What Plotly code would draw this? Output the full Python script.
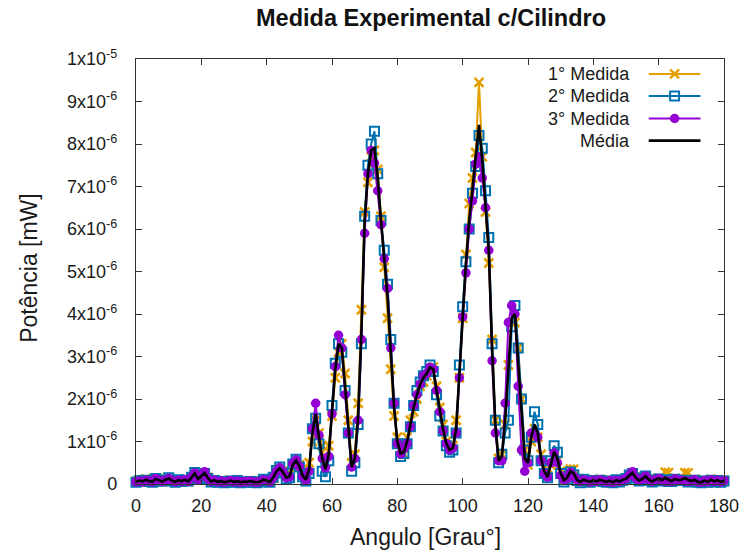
import plotly.graph_objects as go

# Angles (degrees)
angles = list(range(0, 181))

# Power values in units of 1e-6 mW
medida1 = [0.06,0.10,0.05,0.12,0.08,0.06,0.10,0.09,0.05,0.12,0.11,0.09,0.06,0.08,0.09,0.11,0.05,0.13,0.22,0.14,
0.16,0.24,0.16,0.07,0.10,0.06,0.08,0.05,0.07,0.09,0.06,0.06,0.05,0.07,0.06,0.08,0.06,0.05,0.07,0.09,
0.09,0.06,0.13,0.28,0.33,0.30,0.18,0.22,0.40,0.50,0.45,0.25,0.14,0.50,1.00,1.50,1.20,0.90,0.50,0.90,
1.60,2.50,3.10,3.30,2.60,1.50,0.50,0.70,1.90,4.10,6.40,7.10,7.70,7.85,7.40,6.30,5.10,3.90,2.70,1.60,
1.10,0.80,0.70,1.10,1.50,1.70,2.00,2.30,2.40,2.55,2.70,2.75,2.30,1.80,1.40,1.00,0.85,0.90,1.50,2.50,
3.90,5.40,6.60,7.20,7.80,9.45,7.70,6.40,5.20,3.40,1.50,0.60,0.70,1.40,2.80,3.80,3.80,3.20,2.00,0.80,
0.45,1.00,1.30,1.10,0.70,0.40,0.20,0.45,0.65,0.55,0.30,0.12,0.20,0.35,0.35,0.12,0.06,0.09,0.09,0.06,
0.10,0.05,0.11,0.08,0.06,0.09,0.05,0.08,0.07,0.11,0.10,0.18,0.24,0.17,0.09,0.13,0.16,0.11,0.07,0.11,
0.14,0.12,0.28,0.27,0.09,0.13,0.10,0.12,0.27,0.26,0.08,0.11,0.06,0.05,0.09,0.06,0.11,0.07,0.10,0.06,
0.09]

medida2 = [0.04,0.07,0.08,0.09,0.06,0.04,0.13,0.07,0.07,0.09,0.15,0.07,0.04,0.10,0.06,0.09,0.07,0.16,0.27,0.11,
0.19,0.25,0.13,0.05,0.08,0.04,0.06,0.03,0.05,0.07,0.04,0.08,0.03,0.05,0.04,0.06,0.04,0.03,0.05,0.11,
0.07,0.04,0.16,0.32,0.40,0.26,0.12,0.15,0.47,0.58,0.40,0.17,0.07,0.25,1.30,1.55,0.95,0.30,0.17,0.55,
1.85,2.84,3.30,3.10,2.20,1.20,0.30,0.50,1.40,3.30,6.30,7.50,8.00,8.30,7.30,6.20,5.50,4.70,3.40,1.90,
0.95,0.65,0.72,0.95,1.35,1.85,2.20,2.40,2.55,2.65,2.80,2.65,2.10,1.60,1.25,0.90,0.75,0.80,1.20,2.80,
4.17,5.23,6.00,6.84,7.47,8.20,7.90,6.90,5.80,3.30,1.50,0.50,0.70,1.20,1.50,3.70,4.20,3.20,2.00,0.80,
0.55,1.10,1.70,1.40,0.55,0.25,0.15,0.55,0.90,0.75,0.25,0.05,0.12,0.28,0.22,0.08,0.03,0.11,0.07,0.04,
0.08,0.07,0.09,0.06,0.04,0.07,0.03,0.10,0.05,0.09,0.13,0.21,0.25,0.14,0.07,0.11,0.19,0.09,0.05,0.09,
0.12,0.07,0.10,0.06,0.06,0.11,0.08,0.09,0.08,0.05,0.06,0.09,0.04,0.03,0.07,0.04,0.09,0.05,0.08,0.04,
0.07]

medida3 = [0.05,0.07,0.05,0.09,0.07,0.05,0.13,0.08,0.06,0.09,0.13,0.08,0.05,0.09,0.06,0.10,0.06,0.16,0.26,0.11,
0.19,0.29,0.13,0.06,0.09,0.05,0.07,0.04,0.06,0.08,0.05,0.07,0.04,0.06,0.05,0.07,0.05,0.04,0.06,0.10,
0.08,0.05,0.16,0.30,0.38,0.28,0.15,0.17,0.48,0.57,0.41,0.18,0.09,0.30,1.30,1.90,1.15,0.60,0.38,0.65,
1.65,2.76,3.50,3.20,2.10,1.20,0.40,0.60,1.50,3.40,5.90,7.30,7.85,7.55,6.90,6.10,5.30,4.60,3.20,1.90,
0.95,0.71,0.83,0.95,1.35,1.85,2.10,2.35,2.55,2.60,2.75,2.70,2.20,1.70,1.25,0.95,0.80,0.85,1.20,2.50,
3.93,4.97,6.00,6.66,7.53,7.70,7.20,6.50,5.50,2.90,1.20,0.55,0.55,1.90,3.80,4.20,4.00,2.30,0.80,0.30,
0.50,1.20,1.20,1.10,0.55,0.25,0.16,0.50,0.73,0.50,0.20,0.10,0.13,0.27,0.18,0.10,0.06,0.10,0.08,0.05,
0.09,0.06,0.10,0.07,0.05,0.08,0.04,0.09,0.06,0.10,0.13,0.21,0.29,0.14,0.08,0.12,0.19,0.10,0.06,0.10,
0.13,0.08,0.07,0.07,0.06,0.12,0.09,0.09,0.07,0.06,0.07,0.10,0.05,0.04,0.08,0.05,0.10,0.06,0.09,0.05,
0.08]

media = [0.05,0.08,0.06,0.10,0.07,0.05,0.12,0.08,0.06,0.10,0.13,0.08,0.05,0.09,0.07,0.10,0.06,0.15,0.25,0.12,
0.18,0.26,0.14,0.06,0.09,0.05,0.07,0.04,0.06,0.08,0.05,0.07,0.04,0.06,0.05,0.07,0.05,0.04,0.06,0.10,
0.08,0.05,0.15,0.30,0.37,0.28,0.15,0.18,0.45,0.55,0.42,0.20,0.10,0.35,1.20,1.65,1.10,0.60,0.35,0.70,
1.70,2.70,3.30,3.20,2.30,1.30,0.40,0.60,1.60,3.60,6.20,7.30,7.85,7.90,7.20,6.20,5.30,4.40,3.10,1.80,
1.00,0.72,0.75,1.00,1.40,1.80,2.10,2.35,2.50,2.60,2.75,2.70,2.20,1.70,1.30,0.95,0.80,0.85,1.30,2.60,
4.00,5.20,6.20,6.90,7.60,8.45,7.60,6.60,5.50,3.20,1.40,0.55,0.65,1.50,2.70,3.90,4.00,2.90,1.60,0.60,
0.50,1.10,1.40,1.20,0.60,0.30,0.17,0.50,0.76,0.60,0.25,0.09,0.15,0.30,0.25,0.10,0.05,0.10,0.08,0.05,
0.09,0.06,0.10,0.07,0.05,0.08,0.04,0.09,0.06,0.10,0.12,0.20,0.26,0.15,0.08,0.12,0.18,0.10,0.06,0.10,
0.13,0.09,0.15,0.10,0.07,0.12,0.09,0.10,0.14,0.10,0.07,0.10,0.05,0.04,0.08,0.05,0.10,0.06,0.09,0.05,
0.08]

series_names = ["1° Medida", "2° Medida", "3° Medida", "Média"]
x_ticks = [0, 20, 40, 60, 80, 100, 120, 140, 160, 180]
y_tick_vals = [0, 1e-6, 2e-6, 3e-6, 4e-6, 5e-6, 6e-6, 7e-6, 8e-6, 9e-6, 1e-5]
y_tick_text = ["0"] + [f"{i}x10<sup>-6</sup>" for i in range(1, 10)] + ["1x10<sup>-5</sup>"]

SCALE = 1e-6
ORANGE = "#E69F00"
BLUE = "#0072B2"
PURPLE = "#9400D3"
BLACK = "#000000"
TEXT = "#1a1a1a"

FONT = "Liberation Sans, Arial, sans-serif"

styles = [
    dict(color=ORANGE, symbol="x-thin", size=9, mline=dict(color=ORANGE, width=2.5), lw=2),
    dict(color=BLUE, symbol="square-open", size=9, mline=dict(color=BLUE, width=2), lw=2),
    dict(color=PURPLE, symbol="circle", size=9.5, mline=dict(color=PURPLE, width=0), lw=2),
]

fig = go.Figure()
for data, name, st in zip([medida1, medida2, medida3], series_names[:3], styles):
    fig.add_trace(go.Scatter(
        x=angles, y=[v * SCALE for v in data], mode="lines+markers", name=name,
        line=dict(color=st["color"], width=st["lw"]),
        marker=dict(symbol=st["symbol"], size=st["size"], color=st["color"], line=st["mline"]),
        cliponaxis=False, showlegend=False,
    ))
fig.add_trace(go.Scatter(
    x=angles, y=[v * SCALE for v in media], mode="lines", name=series_names[3],
    line=dict(color=BLACK, width=2.6), cliponaxis=False, showlegend=False,
))

# Gnuplot-style key (text then sample) drawn on an overlay axis
key_rows = [0.965, 0.913, 0.860, 0.808]
key_x0, key_x1 = 0.872, 0.960
key_xm = (key_x0 + key_x1) / 2
for i, (name, row) in enumerate(zip(series_names, key_rows)):
    if i < 3:
        st = styles[i]
        fig.add_trace(go.Scatter(
            x=[key_x0, key_x1], y=[row, row], mode="lines", xaxis="x2", yaxis="y2",
            line=dict(color=st["color"], width=2), showlegend=False, hoverinfo="skip"))
        fig.add_trace(go.Scatter(
            x=[key_xm], y=[row], mode="markers", xaxis="x2", yaxis="y2",
            marker=dict(symbol=st["symbol"], size=st["size"], color=st["color"], line=st["mline"]),
            showlegend=False, hoverinfo="skip"))
    else:
        fig.add_trace(go.Scatter(
            x=[key_x0, key_x1], y=[row, row], mode="lines", xaxis="x2", yaxis="y2",
            line=dict(color=BLACK, width=2.6), showlegend=False, hoverinfo="skip"))
    fig.add_annotation(x=0.843, y=row, xref="paper", yref="paper", text=name,
                       showarrow=False, xanchor="right", yanchor="middle",
                       font=dict(family=FONT, size=18, color=TEXT))

axis_common = dict(
    showline=True, linecolor="#333333", linewidth=1.2, mirror="allticks",
    ticks="inside", ticklen=6, tickcolor="#333333", tickwidth=1,
    showgrid=False, zeroline=False,
    tickfont=dict(family=FONT, size=18, color=TEXT),
)

fig.update_layout(
    width=751, height=551,
    margin=dict(l=136, r=17, t=59, b=67),
    paper_bgcolor="white", plot_bgcolor="white",
    showlegend=False,
    xaxis=dict(range=[0, 180], tickvals=x_ticks, ticklabelstandoff=5, **axis_common),
    yaxis=dict(range=[0, 1e-5], tickvals=y_tick_vals, ticktext=y_tick_text,
               ticklabelstandoff=14, **axis_common),
    xaxis2=dict(range=[0, 1], overlaying="x", visible=False, fixedrange=True),
    yaxis2=dict(range=[0, 1], overlaying="y", visible=False, fixedrange=True),
    title=dict(text="<b>Medida Experimental c/Cilindro</b>", x=431 / 751, xref="container",
               y=1 - 18 / 551, yref="container", xanchor="center", yanchor="middle",
               font=dict(family=FONT, size=23.5, color="#111111")),
)

fig.add_annotation(text="Potência [mW]", x=(27 - 136) / 598, y=(484 - 268) / 425,
                   xref="paper", yref="paper",
                   showarrow=False, textangle=-90, xanchor="center", yanchor="middle",
                   font=dict(family=FONT, size=23, color=TEXT))
fig.add_annotation(text="Angulo [Grau°]", x=(430 - 136) / 598, y=-(537 - 484) / 425,
                   xref="paper", yref="paper",
                   showarrow=False, xanchor="center", yanchor="middle",
                   font=dict(family=FONT, size=23, color=TEXT))

fig.write_html("out.html", config={"displayModeBar": False},
               post_script="document.body.style.margin='0';")
